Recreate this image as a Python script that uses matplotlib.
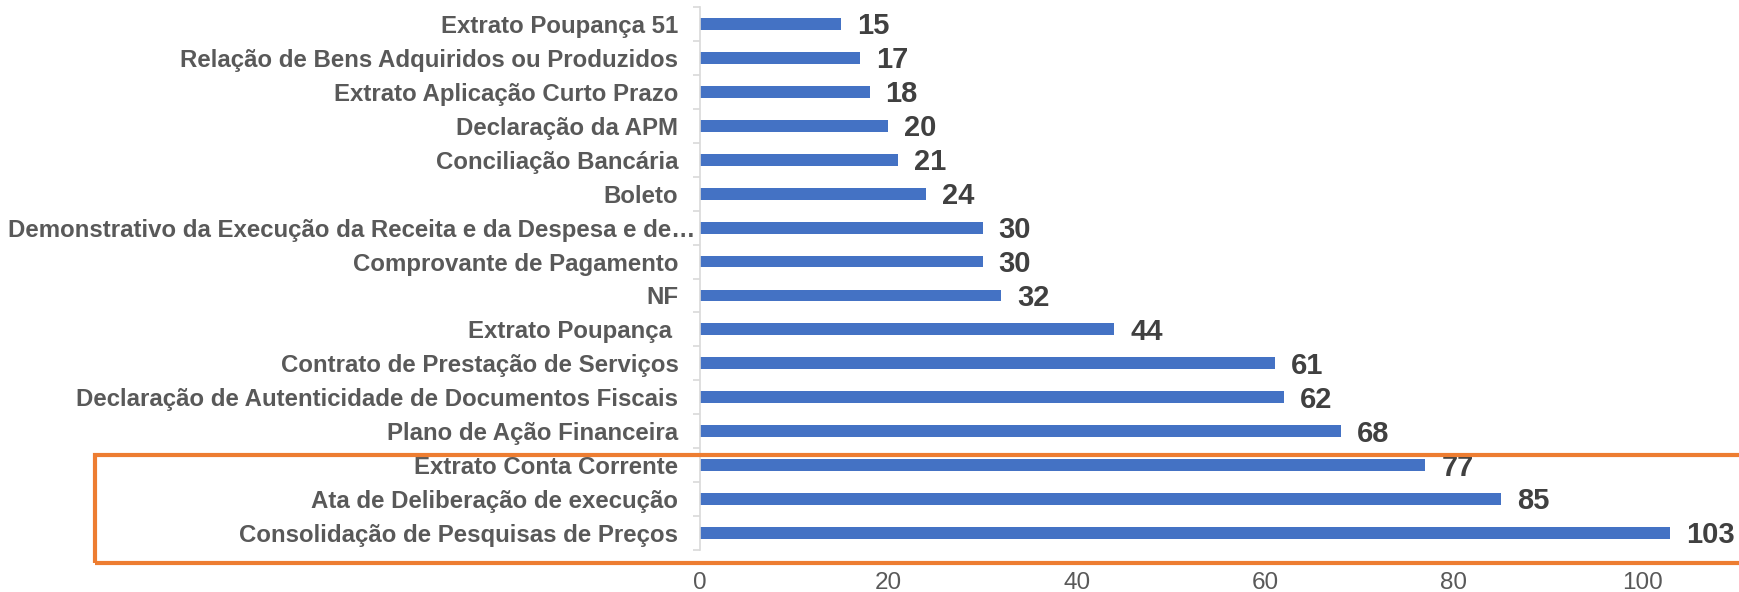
import numpy as np
import matplotlib
matplotlib.use("Agg")
import matplotlib.pyplot as plt
from matplotlib.patches import Rectangle
from matplotlib.transforms import ScaledTranslation

# top to bottom, as in the chart
categorias = [
    "Extrato Poupança 51",
    "Relação de Bens Adquiridos ou Produzidos",
    "Extrato Aplicação Curto Prazo",
    "Declaração da APM",
    "Conciliação Bancária",
    "Boleto",
    "Demonstrativo da Execução da Receita e da Despesa e de…",
    "Comprovante de Pagamento",
    "NF",
    "Extrato Poupança ",
    "Contrato de Prestação de Serviços",
    "Declaração de Autenticidade de Documentos Fiscais",
    "Plano de Ação Financeira",
    "Extrato Conta Corrente",
    "Ata de Deliberação de execução",
    "Consolidação de Pesquisas de Preços",
]
valores = [15, 17, 18, 20, 21, 24, 30, 30, 32, 44, 61, 62, 68, 77, 85, 103]
xticks = [0, 20, 40, 60, 80, 100]

plt.rcParams['font.family'] = ['Liberation Sans', 'DejaVu Sans']

W, H = 1739, 592
x0 = 700
fig = plt.figure(figsize=(W / 100, H / 100), dpi=100)
ax = fig.add_axes([x0 / W, 1 - 550 / H, 1 - x0 / W, 543 / H])

y = np.arange(len(categorias))
ax.barh(y, valores, height=0.35, color="#4472C4")
ax.set_ylim(len(categorias) - 0.5, -0.5)
ax.set_xlim(0, (W - x0) / 9.42)

for yi, v in zip(y, valores):
    ax.text(v + 1.7, yi + 0.07, str(v), va="center", ha="left",
            fontsize=21, fontweight="bold", color="#404040")

ax.set_yticks(y)
ax.set_yticklabels(categorias, fontsize=17.3, fontweight="bold", color="#595959")
ax.set_yticks(np.arange(len(categorias) + 1) - 0.5, minor=True)
ax.tick_params(axis="y", which="major", length=0, pad=15.5)
ax.tick_params(axis="y", which="minor", length=5, width=1.2, color="#d9d9d9")

ax.set_xticks(xticks)
ax.set_xticklabels([str(t) for t in xticks], fontsize=17.5, color="#595959")
ax.tick_params(axis="x", length=0, pad=16)

for s in ["top", "right", "bottom"]:
    ax.spines[s].set_visible(False)
ax.spines["left"].set_color("#d9d9d9")
ax.spines["left"].set_linewidth(1.2)

# the truncated label sits closer to the axis
lbl = ax.get_yticklabels()[6]
lbl.set_transform(lbl.get_transform() + ScaledTranslation(17 / 100, 0, fig.dpi_scale_trans))

fig.patches.append(Rectangle((95 / W, 1 - 563 / H), 1.0, 108 / H,
                             transform=fig.transFigure, fill=False,
                             edgecolor="#ED7D31", linewidth=3, clip_on=False))

fig.savefig("out.png", dpi=100)
